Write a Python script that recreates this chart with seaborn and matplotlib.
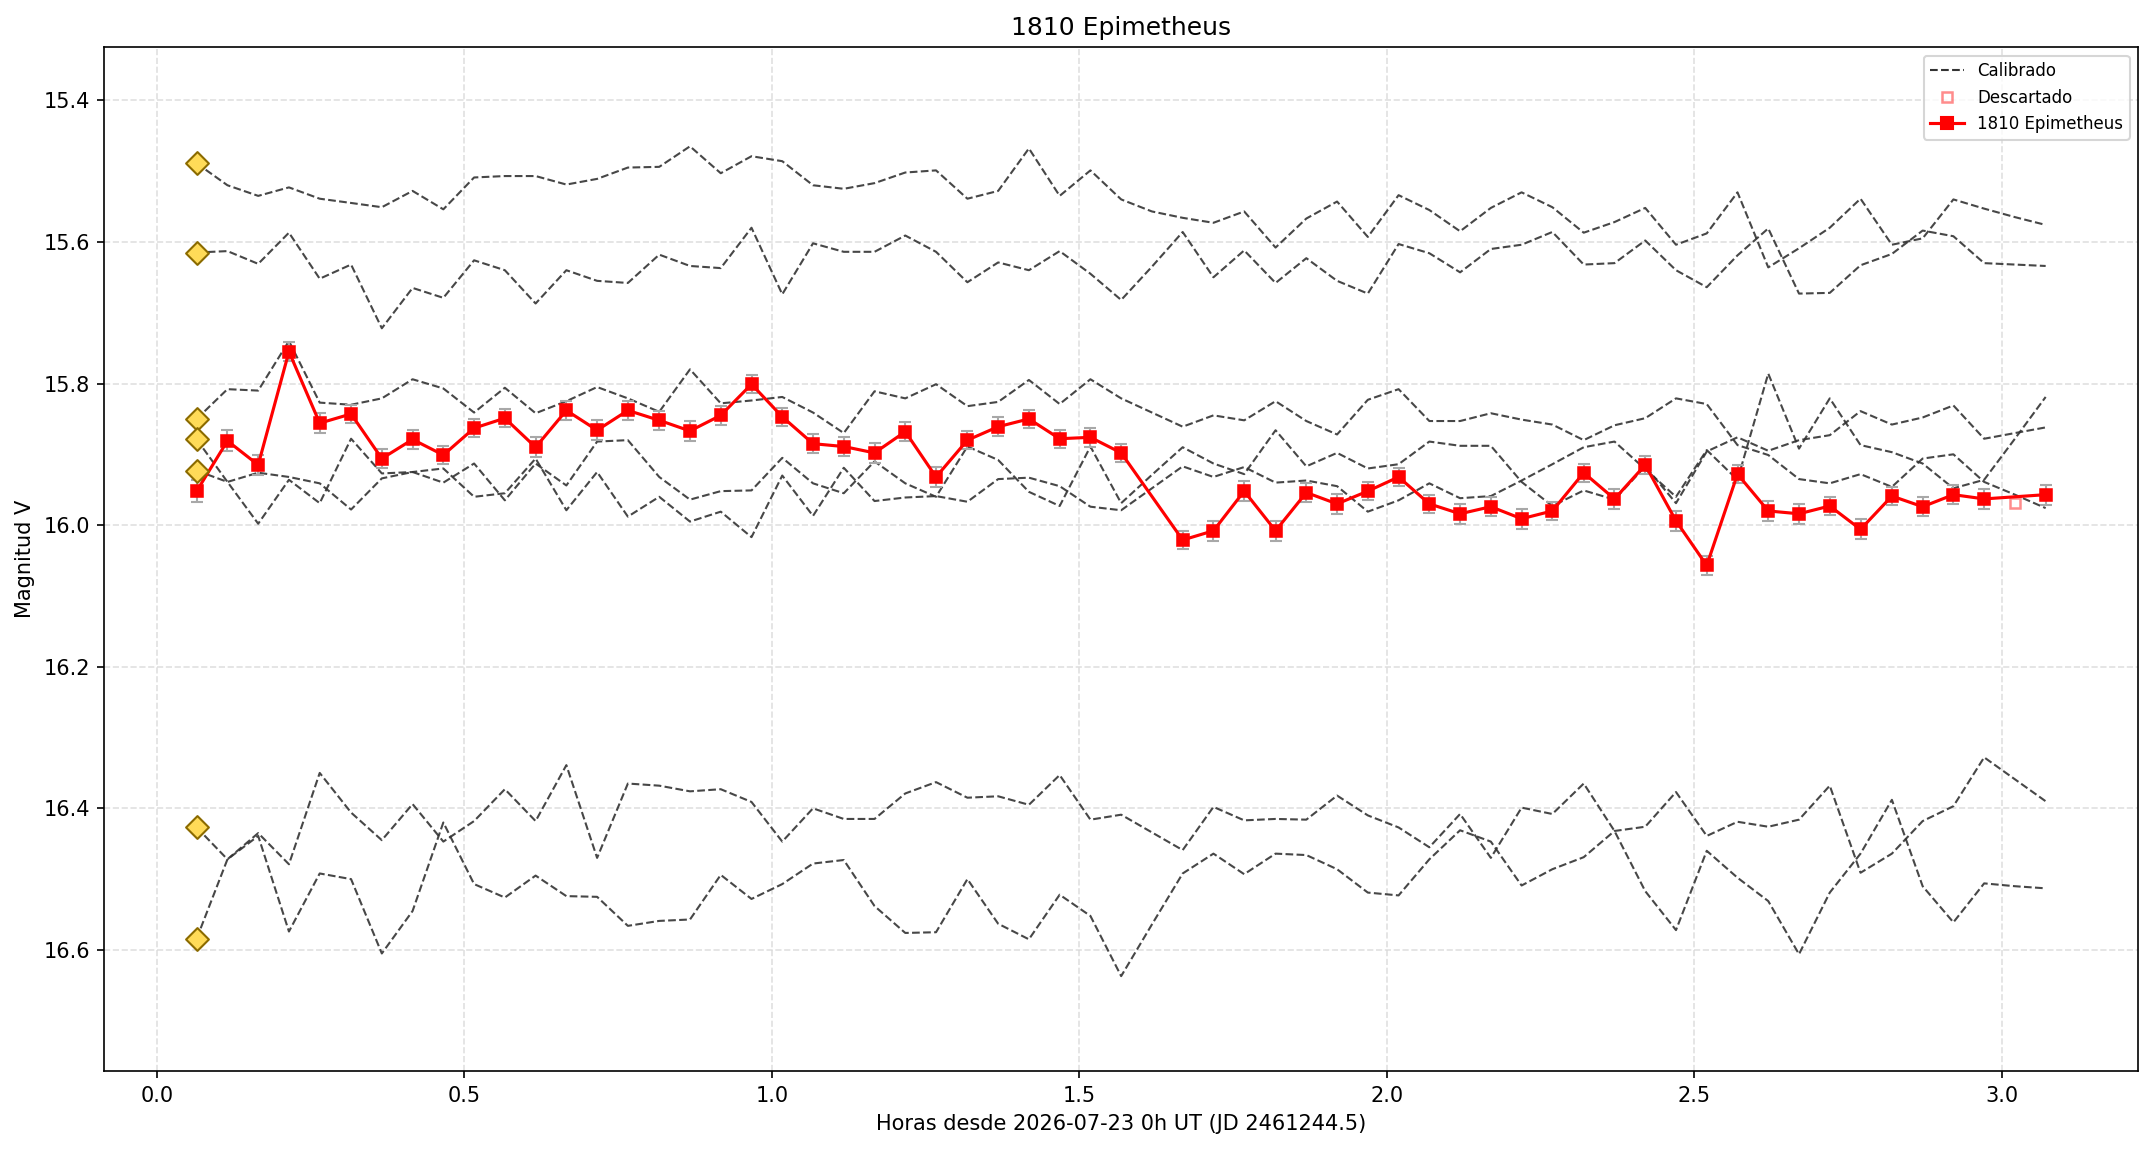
import numpy as np
import pandas as pd
import matplotlib
matplotlib.use("Agg")
import matplotlib.pyplot as plt
from matplotlib.lines import Line2D
import seaborn as sns

# Time of each frame (hours since 2026-07-23 0h UT)
horas = [0.065, 0.115, 0.165, 0.215, 0.265, 0.316, 0.366, 0.416, 0.466, 0.516,
         0.566, 0.616, 0.666, 0.716, 0.766, 0.817, 0.867, 0.917, 0.967, 1.017,
         1.067, 1.117, 1.167, 1.217, 1.267, 1.318, 1.368, 1.418, 1.468, 1.518,
         1.568, 1.618, 1.668, 1.718, 1.768, 1.819, 1.869, 1.919, 1.969, 2.019,
         2.069, 2.119, 2.169, 2.219, 2.269, 2.320, 2.370, 2.420, 2.470, 2.520,
         2.570, 2.620, 2.670, 2.720, 2.770, 2.821, 2.871, 2.921, 2.971, 3.021,
         3.071]

# Target asteroid (NaN = no measurement / discarded)
epimetheus = [15.952, 15.881, 15.915, 15.755, 15.856, 15.843, 15.906, 15.879, 15.901, 15.863,
              15.849, 15.890, 15.838, 15.866, 15.838, 15.852, 15.867, 15.845, 15.801, 15.847,
              15.885, 15.889, 15.898, 15.868, 15.932, 15.880, 15.861, 15.850, 15.878, 15.876,
              15.898, np.nan, 16.021, 16.008, 15.952, 16.008, 15.954, 15.970, 15.952, 15.932,
              15.970, 15.984, 15.974, 15.991, 15.980, 15.926, 15.963, 15.915, 15.994, 16.057,
              15.928, 15.980, 15.984, 15.973, 16.006, 15.959, 15.974, 15.957, 15.963, np.nan,
              15.957]
epimetheus_err = [0.016, 0.015, 0.014, 0.013, 0.014, 0.013, 0.014, 0.014, 0.013, 0.013,
                  0.013, 0.014, 0.013, 0.014, 0.013, 0.013, 0.014, 0.013, 0.013, 0.013,
                  0.013, 0.014, 0.014, 0.013, 0.014, 0.013, 0.013, 0.013, 0.013, 0.013,
                  0.013, np.nan, 0.013, 0.014, 0.014, 0.014, 0.013, 0.014, 0.013, 0.013,
                  0.013, 0.014, 0.013, 0.014, 0.013, 0.013, 0.014, 0.013, 0.014, 0.014,
                  0.013, 0.014, 0.014, 0.013, 0.014, 0.013, 0.013, 0.013, 0.014, np.nan,
                  0.014]
descartado_hora = [3.021]
descartado_mag = [15.969]

# Calibrated comparison stars
cal_1 = [15.489, 15.520, 15.535, 15.523, 15.539, 15.545, 15.551, 15.528, 15.554, 15.509,
         15.507, 15.507, 15.519, 15.511, 15.495, 15.494, 15.465, 15.503, 15.479, 15.486,
         15.520, 15.525, 15.517, 15.502, 15.499, 15.539, 15.528, 15.468, 15.535, 15.499,
         15.540, 15.557, 15.566, 15.573, 15.557, 15.608, 15.567, 15.543, 15.593, 15.534,
         15.555, 15.585, 15.552, 15.530, 15.551, 15.587, 15.572, 15.552, 15.604, 15.588,
         15.530, 15.636, 15.609, 15.580, 15.539, 15.604, 15.595, 15.540, 15.553, 15.565,
         15.576]
cal_2 = [15.615, 15.613, 15.631, 15.587, 15.652, 15.632, 15.722, 15.665, 15.679, 15.626,
         15.640, 15.687, 15.640, 15.655, 15.658, 15.618, 15.634, 15.637, 15.580, 15.674,
         15.602, 15.614, 15.614, 15.591, 15.614, 15.657, 15.629, 15.640, 15.613, 15.645,
         15.682, 15.635, 15.586, 15.650, 15.612, 15.658, 15.623, 15.655, 15.673, 15.603,
         15.616, 15.643, 15.610, 15.604, 15.586, 15.632, 15.630, 15.598, 15.640, 15.664,
         15.619, 15.581, 15.673, 15.672, 15.633, 15.617, 15.584, 15.592, 15.630, 15.632,
         15.634]
cal_3 = [15.850, 15.808, 15.810, 15.740, 15.827, 15.830, 15.821, 15.794, 15.807, 15.841,
         15.806, 15.842, 15.825, 15.805, 15.821, 15.840, 15.780, 15.828, 15.824, 15.819,
         15.841, 15.870, 15.811, 15.821, 15.801, 15.832, 15.826, 15.795, 15.829, 15.794,
         15.821, 15.841, 15.861, 15.845, 15.852, 15.825, 15.853, 15.872, 15.823, 15.808,
         15.853, 15.853, 15.842, 15.851, 15.858, 15.880, 15.859, 15.849, 15.821, 15.829,
         15.887, 15.901, 15.935, 15.941, 15.928, 15.946, 15.906, 15.900, 15.939, 15.957,
         15.976]
cal_4 = [15.879, 15.939, 15.998, 15.936, 15.969, 15.878, 15.927, 15.925, 15.920, 15.960,
         15.955, 15.906, 15.979, 15.925, 15.988, 15.960, 15.995, 15.981, 16.017, 15.930,
         15.987, 15.919, 15.966, 15.961, 15.959, 15.967, 15.935, 15.933, 15.945, 15.974,
         15.979, 15.948, 15.917, 15.932, 15.918, 15.940, 15.937, 15.945, 15.981, 15.965,
         15.941, 15.962, 15.959, 15.937, 15.914, 15.890, 15.882, 15.921, 15.960, 15.894,
         15.936, 15.786, 15.892, 15.821, 15.887, 15.897, 15.913, 15.948, 15.936, 15.878,
         15.819]
cal_5 = [15.923, 15.939, 15.926, 15.932, 15.941, 15.978, 15.934, 15.925, 15.940, 15.913,
         15.965, 15.913, 15.944, 15.882, 15.880, 15.932, 15.964, 15.952, 15.951, 15.905,
         15.941, 15.955, 15.910, 15.941, 15.960, 15.889, 15.908, 15.953, 15.973, 15.889,
         15.969, 15.929, 15.890, 15.913, 15.928, 15.866, 15.917, 15.898, 15.920, 15.914,
         15.882, 15.888, 15.888, 15.939, 15.973, 15.951, 15.964, 15.917, 15.969, 15.896,
         15.876, 15.895, 15.880, 15.873, 15.839, 15.858, 15.848, 15.831, 15.878, 15.870,
         15.862]
cal_6 = [16.427, 16.472, 16.435, 16.479, 16.350, 16.406, 16.445, 16.394, 16.447, 16.418,
         16.373, 16.418, 16.339, 16.470, 16.365, 16.368, 16.376, 16.373, 16.391, 16.447,
         16.400, 16.415, 16.415, 16.379, 16.363, 16.385, 16.383, 16.395, 16.353, 16.416,
         16.409, 16.434, 16.459, 16.398, 16.417, 16.415, 16.416, 16.382, 16.410, 16.427,
         16.455, 16.408, 16.470, 16.399, 16.408, 16.365, 16.432, 16.517, 16.572, 16.460,
         16.498, 16.531, 16.606, 16.519, 16.464, 16.388, 16.510, 16.561, 16.506, 16.510,
         16.513]
cal_7 = [16.584, 16.472, 16.439, 16.574, 16.492, 16.500, 16.605, 16.545, 16.420, 16.507,
         16.526, 16.495, 16.524, 16.525, 16.566, 16.559, 16.557, 16.494, 16.528, 16.507,
         16.478, 16.473, 16.538, 16.576, 16.575, 16.500, 16.563, 16.585, 16.522, 16.552,
         16.637, 16.564, 16.492, 16.464, 16.493, 16.464, 16.466, 16.486, 16.519, 16.523,
         16.472, 16.431, 16.447, 16.509, 16.486, 16.469, 16.432, 16.426, 16.377, 16.439,
         16.419, 16.426, 16.416, 16.368, 16.491, 16.464, 16.418, 16.397, 16.328, 16.359,
         16.390]

calibradas = [cal_1, cal_2, cal_3, cal_4, cal_5, cal_6, cal_7]

# Long table for seaborn
cal_df = pd.concat(
    [pd.DataFrame({"hora": horas, "mag": m, "estrella": i}) for i, m in enumerate(calibradas)],
    ignore_index=True)
obj_df = pd.DataFrame({"hora": horas, "mag": epimetheus, "err": epimetheus_err}).dropna()
ref_df = pd.DataFrame({"hora": [horas[0]] * len(calibradas), "mag": [m[0] for m in calibradas]})

fig, ax = plt.subplots(figsize=(2153 / 150, 1151 / 150), dpi=150)
fig.subplots_adjust(left=0.0485, right=0.993, top=0.959, bottom=0.0695)

sns.lineplot(data=cal_df, x="hora", y="mag", units="estrella", estimator=None,
             color="#333333", linestyle="--", linewidth=1.0, alpha=0.9, ax=ax, legend=False)

ax.errorbar(obj_df["hora"], obj_df["mag"], yerr=obj_df["err"], fmt="none",
            ecolor="#a8a8a8", elinewidth=1.0, capsize=3, zorder=3)
sns.lineplot(data=obj_df, x="hora", y="mag", color="red", marker="s", markersize=5.5,
             markeredgecolor="red", linewidth=1.5, ax=ax, zorder=4, legend=False)

ax.plot(descartado_hora, descartado_mag, linestyle="none", marker="s", markersize=5,
        markerfacecolor="none", markeredgecolor="red", alpha=0.45, markeredgewidth=1.2, zorder=4)

sns.scatterplot(data=ref_df, x="hora", y="mag", marker="D", s=60, color="#ffdb58",
                edgecolor="#8b6b00", linewidth=1.0, ax=ax, zorder=5, legend=False)

ax.set_xlim(-0.085, 3.221)
ax.set_ylim(16.771, 15.325)
ax.grid(True, linestyle="--", color="#d8d8d8", alpha=0.8, linewidth=0.8)
ax.set_axisbelow(True)

ax.set_title("1810 Epimetheus")
ax.set_xlabel("Horas desde 2026-07-23 0h UT (JD 2461244.5)")
ax.set_ylabel("Magnitud V")

handles = [
    Line2D([], [], color="#333333", linestyle="--", linewidth=1.0),
    Line2D([], [], linestyle="none", marker="s", markersize=5, markerfacecolor="none",
           markeredgecolor="red", alpha=0.45, markeredgewidth=1.2),
    Line2D([], [], color="red", marker="s", markersize=5.5, linewidth=1.5),
]
ax.legend(handles, ["Calibrado", "Descartado", "1810 Epimetheus"], loc="upper right",
          fontsize=8)

fig.savefig("out.png", dpi=150)
